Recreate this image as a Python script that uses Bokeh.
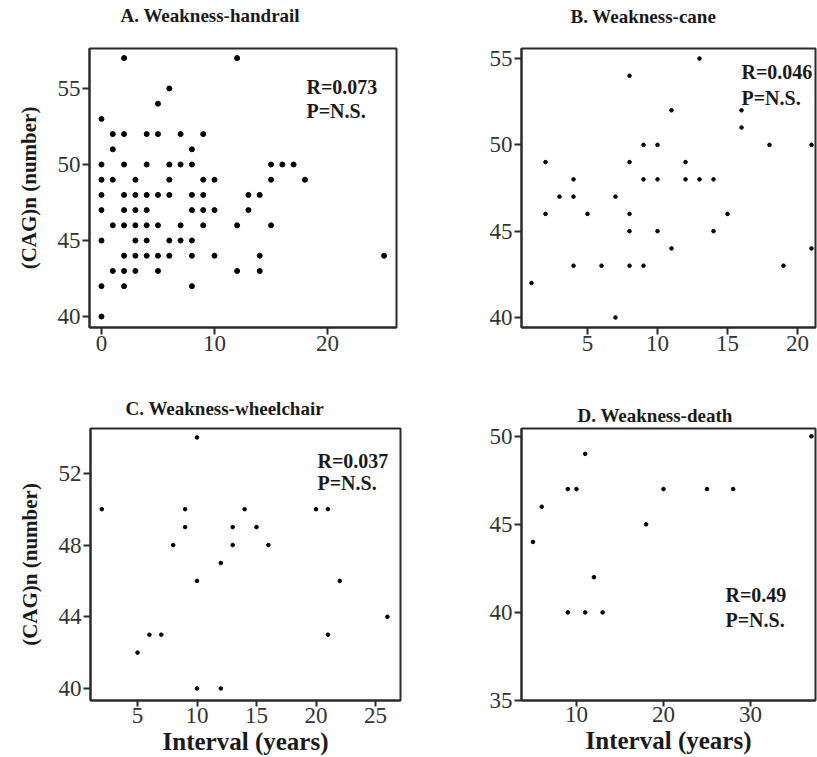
from bokeh.plotting import figure
from bokeh.layouts import column, row
from bokeh.models import FixedTicker, Label, Range1d
from bokeh.embed import file_html
from bokeh.resources import INLINE

# ---------------- data ----------------
# A. Weakness-handrail
a_interval = [2, 12, 6, 5, 0,
              1, 2, 4, 5, 7, 9,
              1, 8,
              0, 2, 4, 6, 7, 8, 15, 16, 17,
              0, 1, 3, 6, 9, 10, 15, 18,
              0, 2, 3, 4, 5, 6, 8, 9, 13, 14,
              0, 2, 3, 4, 8, 9, 10, 13,
              1, 2, 3, 4, 5, 7, 9, 12, 15,
              0, 3, 4, 6, 7, 8,
              2, 3, 4, 5, 6, 8, 10, 14, 25,
              1, 2, 3, 5, 12, 14,
              0, 2, 8,
              0]
a_cag = [57, 57, 55, 54, 53,
         52, 52, 52, 52, 52, 52,
         51, 51,
         50, 50, 50, 50, 50, 50, 50, 50, 50,
         49, 49, 49, 49, 49, 49, 49, 49,
         48, 48, 48, 48, 48, 48, 48, 48, 48, 48,
         47, 47, 47, 47, 47, 47, 47, 47,
         46, 46, 46, 46, 46, 46, 46, 46, 46,
         45, 45, 45, 45, 45, 45,
         44, 44, 44, 44, 44, 44, 44, 44, 44,
         43, 43, 43, 43, 43, 43,
         42, 42, 42,
         40]

# B. Weakness-cane
b_interval = [13, 8, 11, 16, 16, 9, 10, 18, 21, 2, 8, 12, 4, 9, 10, 12, 13, 14,
              3, 4, 7, 2, 5, 8, 15, 8, 10, 14, 11, 21, 4, 6, 8, 9, 19, 1, 7]
b_cag = [55, 54, 52, 52, 51, 50, 50, 50, 50, 49, 49, 49, 48, 48, 48, 48, 48, 48,
         47, 47, 47, 46, 46, 46, 46, 45, 45, 45, 44, 44, 43, 43, 43, 43, 43, 42, 40]

# C. Weakness-wheelchair
c_interval = [10, 2, 9, 14, 20, 21, 9, 13, 15, 8, 13, 16, 12, 10, 22, 26, 6, 7, 21, 5, 10, 12]
c_cag = [54, 50, 50, 50, 50, 50, 49, 49, 49, 48, 48, 48, 47, 46, 46, 44, 43, 43, 43, 42, 40, 40]

# D. Weakness-death
d_interval = [37, 11, 9, 10, 20, 25, 28, 6, 18, 5, 12, 9, 11, 13]
d_cag = [50, 49, 47, 47, 47, 47, 47, 46, 45, 44, 42, 40, 40, 40]

titles = ["A.  Weakness-handrail", "B.  Weakness-cane",
          "C.  Weakness-wheelchair", "D.  Weakness-death"]
r_texts = ["R=0.073", "R=0.046", "R=0.037", "R=0.49"]
p_text = "P=N.S."
y_label = "(CAG)n (number)"
x_label = "Interval (years)"

a_xticks, a_yticks = [0, 10, 20], [40, 45, 50, 55]
b_xticks, b_yticks = [5, 10, 15, 20], [40, 45, 50, 55]
c_xticks, c_yticks = [5, 10, 15, 20, 25], [40, 44, 48, 52]
d_xticks, d_yticks = [10, 20, 30], [35, 40, 45, 50]

SERIF = "Liberation Serif"
INK = "#2b2b2b"


def make_panel(width, height, left, right, top, bottom, xr, yr, xticks, yticks,
               xs, ys, dot, title, t_xy, rtext, r_xy, p_xy,
               ylab=None, xlab=None, xlab_xy=(0, 0), xstand=1, xtick_out=7):
    p = figure(width=width, height=height, x_range=Range1d(*xr), y_range=Range1d(*yr),
               output_backend="svg", toolbar_location=None, title_location=None,
               min_border_left=left, min_border_right=right,
               min_border_top=top, min_border_bottom=bottom)
    p.grid.visible = False
    p.outline_line_color = INK
    p.outline_line_width = 2
    p.background_fill_color = "white"
    p.border_fill_color = "white"

    # panel title placed in the space above the frame
    p.add_layout(Label(x=t_xy[0], y=t_xy[1], x_units="screen", y_units="screen",
                       text=title, text_font=SERIF, text_font_style="bold",
                       text_font_size="19px", text_color="#1a1a1a",
                       text_align="left", text_baseline="middle"), "above")

    p.xaxis.ticker = FixedTicker(ticks=xticks)
    p.yaxis.ticker = FixedTicker(ticks=yticks)
    for ax in (p.xaxis, p.yaxis):
        ax.minor_tick_line_color = None
        ax.major_tick_out = 7
        ax.major_tick_in = 0
        ax.major_tick_line_width = 2
        ax.major_tick_line_color = INK
        ax.axis_line_width = 2
        ax.axis_line_color = INK
        ax.major_label_text_font = SERIF
        ax.major_label_text_font_size = "23px"
        ax.major_label_text_color = "#333333"
        ax.axis_label_text_font = SERIF
        ax.axis_label_text_font_style = "bold"
        ax.axis_label_text_color = "#1a1a1a"
    p.xaxis.major_tick_out = xtick_out
    p.yaxis.axis_label_text_font_size = "21px"
    p.yaxis.major_label_standoff = 2
    p.xaxis.major_label_standoff = xstand
    if ylab:
        p.yaxis.axis_label = ylab
        p.yaxis.axis_label_standoff = 14
    if xlab:
        # x-axis title placed in the panel below the axis, low as in the reference
        p.add_layout(Label(x=xlab_xy[0], y=xlab_xy[1], x_units="screen", y_units="screen",
                           text=xlab, text_font=SERIF, text_font_style="bold",
                           text_font_size="25px", text_color="#1a1a1a",
                           text_align="center", text_baseline="alphabetic"), "below")

    p.scatter(xs, ys, size=dot, color="black")

    for txt, xy in ((rtext, r_xy), (p_text, p_xy)):
        p.add_layout(Label(x=xy[0], y=xy[1], x_units="screen", y_units="screen",
                           text=txt, text_font=SERIF, text_font_style="bold",
                           text_font_size="20px", text_color="#1a1a1a",
                           text_align="left", text_baseline="alphabetic"))
    return p


pA = make_panel(470, 388, 89, 74, 48, 61, (-1.06, 26.1), (39.28, 57.63),
                a_xticks, a_yticks, a_interval, a_cag, 5,
                titles[0], (31, 33), r_texts[0], (217, 241), (217, 217),
                ylab=y_label)
pB = make_panel(347, 388, 51, 2, 47, 61, (0.286, 21.286), (39.42, 55.58),
                b_xticks, b_yticks, b_interval, b_cag, 3.6,
                titles[1], (49, 32), r_texts[1], (220, 256), (220, 230))
pC = make_panel(470, 369, 90, 70, 40, 57, (1.05, 27.1), (39.33, 54.5),
                c_xticks, c_yticks, c_interval, c_cag, 3.6,
                titles[2], (35, 20), r_texts[2], (227, 240), (227, 218),
                ylab=y_label, xlab=x_label, xlab_xy=(155, 11),
                xstand=1, xtick_out=6)
pD = make_panel(347, 369, 51, 2, 36, 54, (3.678, 37.47), (35, 50.44),
                d_xticks, d_yticks, d_interval, d_cag, 3.6,
                titles[3], (56, 13), r_texts[3], (204, 106), (204, 81),
                xlab=x_label, xlab_xy=(147, 11),
                xstand=0, xtick_out=6)

layout = column(row(pA, pB), row(pC, pD))
open("out.html", "w").write(file_html(layout, INLINE))
